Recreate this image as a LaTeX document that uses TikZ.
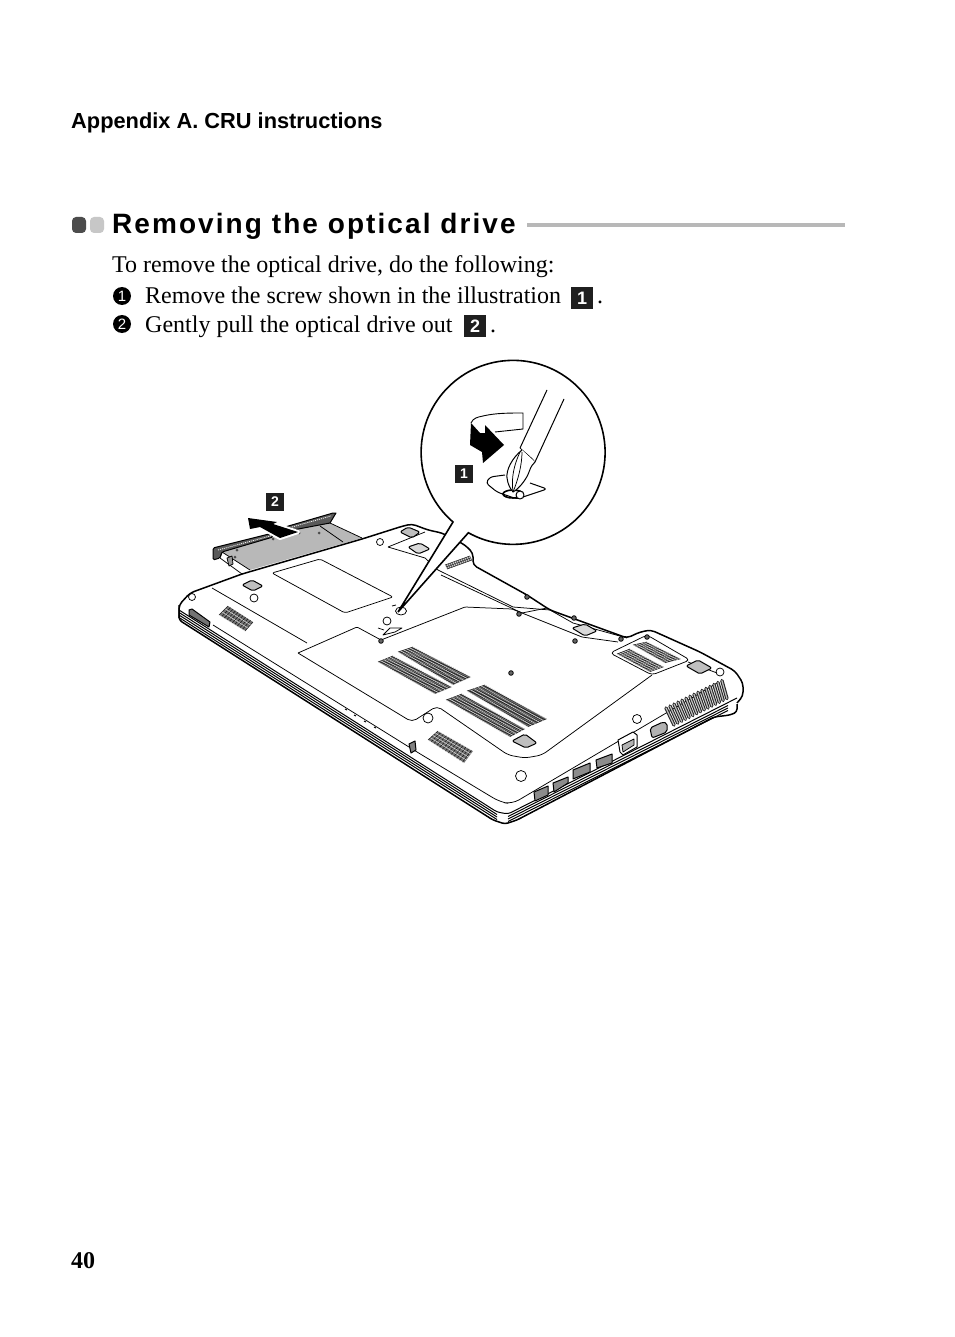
\documentclass[tikz,border=0pt]{standalone}
\usepackage{fontspec}
\setmainfont{Liberation Serif}
\newfontfamily\headfont{Liberation Sans}
\newfontfamily\titlefont[LetterSpace=7.4]{Liberation Sans}
\usetikzlibrary{positioning,calc,arrows.meta}

\newcommand{\ventgrid}[6]{
    \fill[black!55] (#1) -- (#2) -- (#3) -- (#4) -- cycle;
    \foreach \t in {0,#5,...,1.001}
        \draw[vent] ($(#1)!\t!(#4)$) -- ($(#2)!\t!(#3)$);
    \foreach \t in {0,#6,...,1.001}
        \draw[line width=0.35pt, white] ($(#1)!\t!(#2)$) -- ($(#4)!\t!(#3)$);
}

\begin{document}
\begin{tikzpicture}[
        x=1pt, y=-1pt,
        headtext/.style = {anchor=base west, inner sep=0pt, font=\headfont\bfseries\fontsize{21.8}{24}\selectfont},
        titletext/.style = {anchor=base west, inner sep=0pt, font=\titlefont\bfseries\fontsize{28}{32}\selectfont},
        bodytext/.style = {anchor=base west, inner sep=0pt, font=\fontsize{24}{26}\selectfont},
        numdot/.style = {circle, fill=black, text=white, inner sep=0pt, minimum size=18pt, font=\headfont\fontsize{15}{16}\selectfont},
        numbox/.style = {rectangle, fill=black!88, text=white, inner sep=0pt, minimum size=22pt, font=\headfont\bfseries\fontsize{18}{20}\selectfont},
        figbox/.style = {numbox, minimum size=18pt, font=\headfont\bfseries\fontsize{14}{16}\selectfont},
        bullet/.style = {rounded corners=4pt, minimum width=14pt, minimum height=16pt, inner sep=0pt},
        thickline/.style = {line width=1.5pt, line join=round},
        midline/.style = {line width=1pt, line join=round},
        thinline/.style = {line width=0.75pt, line join=round},
        vent/.style = {line width=0.6pt, black!90},
        screwhole/.style = {line width=0.8pt, fill=black!60},
        calloutline/.style = {line width=1.6pt, fill=white, line join=miter}
    ]
    \useasboundingbox (0,0) rectangle (954,1337);
    \fill[white] (0,0) rectangle (954,1337);

    \node [headtext] (appendix) at (71,129) {Appendix A. CRU instructions};
    \node [bullet, fill=black!70] (bulleta) at (79,225) {};
    \node [bullet, fill=black!22] (bulletb) at (97,225) {};
    \node [titletext] (title) at (112,234) {Removing the optical drive};
    \coordinate (ruleend) at (845,225);
    \coordinate (rulestart) at (527,225);
    \draw [line width=3.6pt, black!28] (rulestart) -- (ruleend);

    \node [bodytext] (intro) at (112,273) {To remove the optical drive, do the following:};
    \node [numdot] (dota) at (122,296) {1};
    \node [bodytext] (stepa) at (145,303) {Remove the screw shown in the illustration};
    \node [numbox] (boxa) at (582,298) {1};
    \node [bodytext] (perioda) at (597,303) {.};
    \node [numdot] (dotb) at (122,324) {2};
    \node [bodytext] (stepb) at (145,332) {Gently pull the optical drive out};
    \node [numbox] (boxb) at (475,326) {2};
    \node [bodytext] (periodb) at (490,332) {.};
    \node [anchor=base west, inner sep=0pt, font=\bfseries\fontsize{24}{26}\selectfont] (pagenum) at (71,1268) {40};

    \fill[black!28] (222,552) -- (273,537) -- (293,530) -- (330,523) -- (362,538) -- (250,570) -- cycle;
    \draw [midline, rounded corners=1.5pt, fill=black!65] (213,560) -- (213,548) -- (273,533) -- (273,537) -- (222,552) -- (220,558) -- cycle;
    \draw [midline, fill=black!65] (285,527) -- (333,513) -- (336,513) -- (330,523) -- (293,530) -- cycle;
    \draw [line width=0.8pt, white, dash pattern=on 1pt off 1pt] (218,550) -- (272,535.5);
    \draw [line width=0.8pt, white, dash pattern=on 1pt off 1pt] (292,527) -- (331,516);
    \draw [thinline] (222,552) -- (250,570);
    \draw [thinline] (222,552) -- (220,558) -- (242,574);
    \draw [thinline] (320,526) -- (343,542);
    \draw [thinline] (330,523) -- (362,538);
    \foreach \hx/\hy in {273/539,299/533,319/533,237/550,235/557}
        \fill[black!70] (\hx,\hy) circle (1.5pt);
    \draw [thinline, fill=black!40] (227,558) -- (232,556) -- (233,564) -- (229,566) -- cycle;
    \draw [line width=4pt, white, fill=white, line join=round] (248,518) -- (277,522) -- (273,524) -- (298,532) -- (280,538) -- (260,527) -- (250,529) -- cycle;
    \fill[black] (248,518) -- (277,522) -- (273,524) -- (298,532) -- (280,538) -- (260,527) -- (250,529) -- cycle;
    \node [figbox] (labeldrive) at (275,502) {2};

    \draw [thickline, rounded corners=4pt] (179,618) -- (179,605) -- (190,593) -- (242,574) -- (362,539) -- (403,526) -- (412,524) -- (428,530) -- (442,533) -- (465,545) -- (473,553) -- (473,565) -- (527,595) -- (550,610) -- (627,638) -- (640,632) -- (651,630) -- (700,652) -- (735,671) -- (743,683) -- (743,696) -- (737,703);
    \draw [thickline, rounded corners=3pt] (737,704) -- (737,712) -- (730,715) -- (714,717) -- (517,820) -- (505,824) -- (493,820) -- (179,620) -- (179,605);
    \draw [midline, rounded corners=3pt] (179,610) -- (497,812) -- (508,814) -- (737,698);
    \foreach \sh in {2.5,5,7.5} {
        \draw [midline] (179,610+\sh) -- (497,812+\sh);
        \draw [midline] (508,814+\sh) -- (728,703+\sh);
    }

    \draw [thinline, rounded corners=3pt] (212,588) -- (307,643);
    \draw [thinline, rounded corners=8pt] (213,625) -- (417,752) -- (500,802) -- (512,804) -- (717,683);
    \draw [thinline, rounded corners=2pt] (272,573) -- (320,559) -- (393,597) -- (345,613) -- cycle;
    \draw [thinline, rounded corners=1pt] (298,653) -- (357,627) -- (381,640) -- (465,607) -- (512,609) -- (522,613) -- (547,608);
    \draw [thinline, rounded corners=5pt] (298,653) -- (412,722) -- (437,706) -- (508,755) -- (525,758) -- (542,755) -- (652,675);
    \draw [thinline, rounded corners=4pt] (610,653) -- (647,635) -- (690,660) -- (652,675) -- cycle;
    \draw [thinline] (383,635) -- (390,628) -- (402,628) -- (395,632) -- cycle;
    \draw [thinline] (388,547) -- (425,532);
    \draw [thinline] (388,547) -- (425,558) -- (438,570) -- (513,607) -- (550,610) -- (573,623) -- (627,638);
    \draw [thinline] (441,575) -- (522,613) -- (582,637) -- (618,642);
    \draw [thinline] (688,662) -- (717,673);
    \draw [thinline] (392,606) -- (396,605);
    \draw [thinline] (378,628) -- (384,630);

    \ventgrid{398,652}{413,647}{471,677}{453,685}{0.035}{0.2}
    \ventgrid{378,662}{393,656}{452,687}{435,694}{0.035}{0.2}
    \ventgrid{467,691}{485,685}{547,719}{528,727}{0.03}{0.2}
    \ventgrid{446,700}{462,694}{525,729}{510,737}{0.03}{0.2}
    \ventgrid{633,645}{647,642}{681,659}{665,663}{0.07}{0.2}
    \ventgrid{617,654}{630,649}{664,667}{650,672}{0.07}{0.2}
    \ventgrid{219,615}{228,606}{253,622}{245,631}{0.1}{0.34}
    \ventgrid{428,740}{438,731}{473,751}{464,763}{0.08}{0.25}
    \ventgrid{445,565}{470,556}{472,560}{447,569}{0.5}{0.08}

    \foreach \t in {0,0.07,...,1.001} {
        \draw [line width=3.4pt, black!85, line cap=round] ($(666,708)!\t!(723,680)$) -- ($(674,725)!\t!(728,698)$);
        \draw [line width=1.2pt, black!25, line cap=round] ($(666,708)!\t!(723,680)$) -- ($(674,725)!\t!(728,698)$);
    }

    \foreach \ax/\ay/\bx/\by/\cx/\cy/\dx/\dy in {242/585/252/580/263/586/253/591, 400/532/408/527/420/532/412/538, 512/741/525/734/537/743/526/748, 686/666/698/660/712/668/700/674}
        \draw [midline, rounded corners=2pt, fill=black!25] (\ax,\ay) -- (\bx,\by) -- (\cx,\cy) -- (\dx,\dy) -- cycle;

    \foreach \cx/\cy/\rx in {192/597/3.5, 254/598/4, 380/542/3.5, 387/621/4, 428/718/5, 521/776/5.5, 637/719/4.5, 720/672/4}
        \draw [thinline] (\cx,\cy) ellipse [x radius=\rx pt, y radius=\rx pt];

    \foreach \cx/\cy in {381/641, 511/673, 519/614, 575/641, 527/597, 574/618, 621/639, 647/637}
        \draw [screwhole] (\cx,\cy) circle (2.3pt);
    \draw [thinline] (401,611) ellipse [x radius=5.5pt, y radius=4pt];

    \draw [midline, rounded corners=2pt, fill=black!15] (408,547) -- (420,543) -- (430,549) -- (418,554) -- cycle;
    \draw [midline, rounded corners=2pt, fill=black!15] (572,628) -- (585,624) -- (597,631) -- (585,636) -- cycle;
    \draw [midline, fill=black!55] (189,610) -- (192,609) -- (210,622) -- (209,627) -- (189,615) -- cycle;

    \foreach \lx/\ly in {345/709, 354/715, 364/721, 374/727}
        \draw [line width=1pt] (\lx,\ly) -- ++(2,1);
    \draw [midline, fill=black!50] (409,744) -- (415,741) -- (416,750) -- (411,753) -- cycle;

    \draw [midline, fill=black!45] (534,792) -- (548,786) -- (548,795) -- (535,801) -- cycle;
    \draw [midline, fill=black!45] (553,783) -- (568,777) -- (568,783) -- (554,792) -- cycle;
    \draw [midline, fill=black!45] (573,770) -- (590,763) -- (590,772) -- (573,779) -- cycle;
    \draw [midline, fill=black!45] (596,760) -- (612,754) -- (612,763) -- (597,768) -- cycle;
    \draw [midline, fill=white] (618,740) -- (633,732) -- (637,735) -- (637,747) -- (623,755) -- (620,752) -- cycle;
    \draw [thinline, fill=black!30] (622,745) -- (634,739) -- (634,745) -- (623,752) -- cycle;
    \draw [midline, rounded corners=2pt, fill=black!30] (650,728) -- (663,722) -- (667,723) -- (667,732) -- (652,738) -- cycle;

    \draw [calloutline] (398,612) -- (453,522) arc [start angle=229.2, end angle=-119.1, radius=92pt] -- cycle;

    \draw [line width=0.9pt] (483,416) .. controls (495,413) and (510,413) .. (523,413) -- (523,429) -- (495,432);
    \draw [line width=0.9pt] (471,423) .. controls (473,418) and (478,417) .. (483,416);
    \fill[black] (471,423) -- (470,445) -- (482,452) -- (483,463) -- (504,445) -- (485,425) -- (485,433) -- (480,433) -- cycle;

    \draw [midline, fill=white, rounded corners=3pt] (505,475) -- (490,477) -- (486,483) -- (497,492) -- (517,499) -- (547,489) -- (530,483);
    \draw [line width=1.6pt] (513,494) ellipse [x radius=10pt, y radius=4pt];
    \draw [midline, fill=white] (520,495) circle (4pt);

    \draw [midline] (547,390) -- (520,448);
    \draw [midline] (564,399) -- (535,462);
    \draw [thinline] (520,448) .. controls (524,452) and (530,456) .. (535,462);
    \draw [midline, fill=white] (522,450) .. controls (512,458) and (506,470) .. (507,478) .. controls (508,485) and (510,488) .. (513,492) .. controls (520,488) and (527,478) .. (529,472) .. controls (531,466) and (533,464) .. (535,462);
    \draw [thinline] (520,452) .. controls (514,465) and (511,478) .. (513,492);
    \draw [thinline] (522,452) .. controls (522,465) and (518,480) .. (513,492);

    \node [figbox] (labelscrew) at (464,474) {1};
\end{tikzpicture}
\end{document}
